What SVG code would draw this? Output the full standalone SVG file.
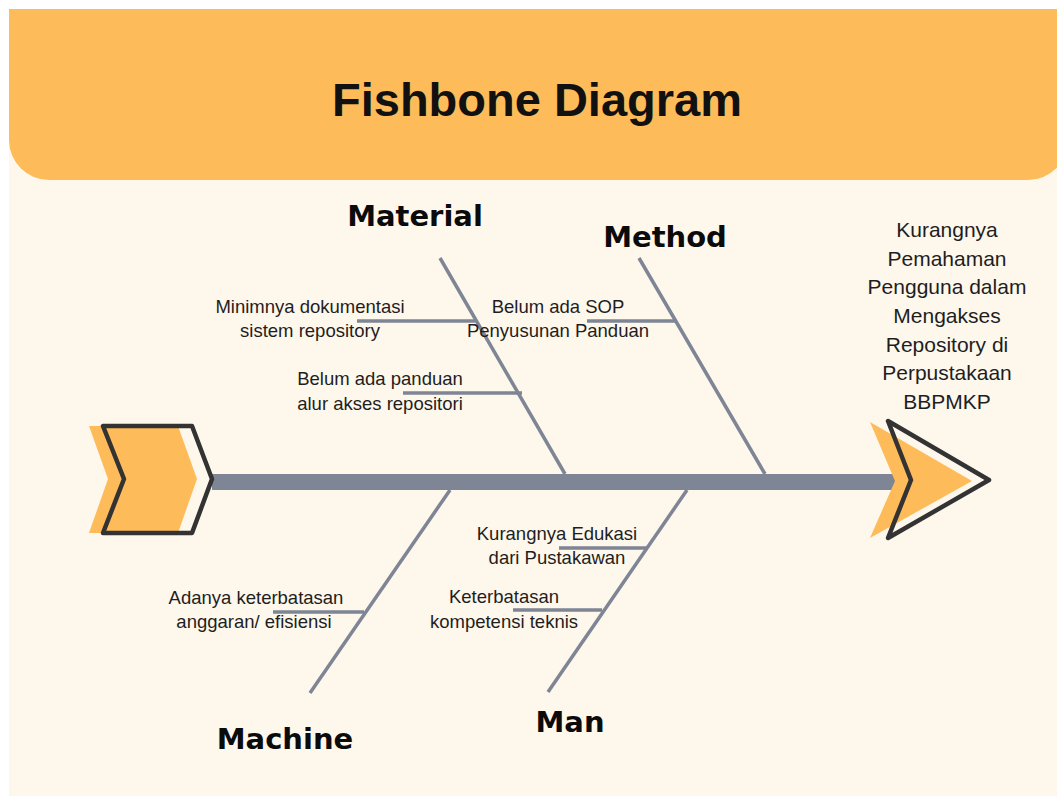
<svg xmlns="http://www.w3.org/2000/svg" width="1057" height="796" viewBox="0 0 1057 796">
<style>
.bone{stroke:#7E8594;stroke-width:3.5;fill:none;stroke-linecap:butt}
.sub{stroke:#7E8594;stroke-width:3.5;fill:none}
.cat{font-family:"DejaVu Sans",sans-serif;font-weight:700;font-size:29px;fill:#0B0B0B;text-anchor:middle}
.lbl{font-family:"Liberation Sans",Arial,sans-serif;font-size:18.5px;fill:#1E1E1E;text-anchor:middle}
.eff{font-family:"Liberation Sans",Arial,sans-serif;font-size:21px;fill:#1E1E1E;text-anchor:middle}
.outline{fill:none;stroke:#333333;stroke-width:4.5;stroke-linejoin:round}
.fillO{fill:#FEBB59}
</style>
<rect x="0" y="0" width="1057" height="796" fill="#FFFFFF"/>
<rect x="9" y="9" width="1048" height="787" fill="#FEF7EC"/>
<g id="header">
<path d="M9,9 H1068 V140 A40,40 0 0 1 1028,180 H49 A40,40 0 0 1 9,140 Z" fill="#FEBB59"/>
<text x="537" y="116" font-family="Liberation Sans,Arial,sans-serif" font-weight="700" font-size="47" fill="#111111" text-anchor="middle">Fishbone Diagram</text>
</g>
<g id="connectors">
<rect x="212" y="474" width="685" height="16" fill="#7E8594"/>
<line class="bone" x1="440" y1="258" x2="565" y2="474"/>
<line class="bone" x1="639" y1="258" x2="765" y2="474"/>
<line class="bone" x1="450" y1="490" x2="310" y2="693"/>
<line class="bone" x1="687" y1="490" x2="548" y2="692"/>
<line class="sub" x1="357" y1="321" x2="476" y2="321"/>
<line class="sub" x1="587" y1="321" x2="675" y2="321"/>
<line class="sub" x1="403" y1="393" x2="522" y2="393"/>
<line class="sub" x1="559" y1="548" x2="648" y2="548"/>
<line class="sub" x1="513" y1="610" x2="602" y2="610"/>
<line class="sub" x1="273" y1="612" x2="364" y2="612"/>
</g>
<g id="tail">
<polygon class="fillO" points="89,426 178,426 197,479 178,533 89,533 108,479"/>
<polygon class="outline" points="103,426 192,426 212,479 192,533 103,533 124,479"/>
</g>
<g id="head">
<polygon class="fillO" points="870,422 972,481 870,538 895,481"/>
<polygon class="outline" points="888,421 989,480 888,538 911,480"/>
</g>
<g id="effect">
<text class="eff" x="947" y="237">Kurangnya</text>
<text class="eff" x="947" y="266">Pemahaman</text>
<text class="eff" x="947" y="294">Pengguna dalam</text>
<text class="eff" x="947" y="323">Mengakses</text>
<text class="eff" x="947" y="352">Repository di</text>
<text class="eff" x="947" y="380">Perpustakaan</text>
<text class="eff" x="947" y="409">BBPMKP</text>
</g>
<g id="material">
<text class="cat" x="415" y="226">Material</text>
<text class="lbl" x="310" y="313">Minimnya dokumentasi</text>
<text class="lbl" x="310" y="337">sistem repository</text>
<text class="lbl" x="380" y="385">Belum ada panduan</text>
<text class="lbl" x="380" y="410">alur akses repositori</text>
</g>
<g id="method">
<text class="cat" x="665" y="247">Method</text>
<text class="lbl" x="558" y="313">Belum ada SOP</text>
<text class="lbl" x="558" y="337">Penyusunan Panduan</text>
</g>
<g id="machine">
<text class="cat" x="285" y="749">Machine</text>
<text class="lbl" x="256" y="604">Adanya keterbatasan</text>
<text class="lbl" x="254" y="628">anggaran/ efisiensi</text>
</g>
<g id="man">
<text class="cat" x="570" y="732">Man</text>
<text class="lbl" x="557" y="540">Kurangnya Edukasi</text>
<text class="lbl" x="557" y="564">dari Pustakawan</text>
<text class="lbl" x="504" y="603">Keterbatasan</text>
<text class="lbl" x="504" y="628">kompetensi teknis</text>
</g>
</svg>
